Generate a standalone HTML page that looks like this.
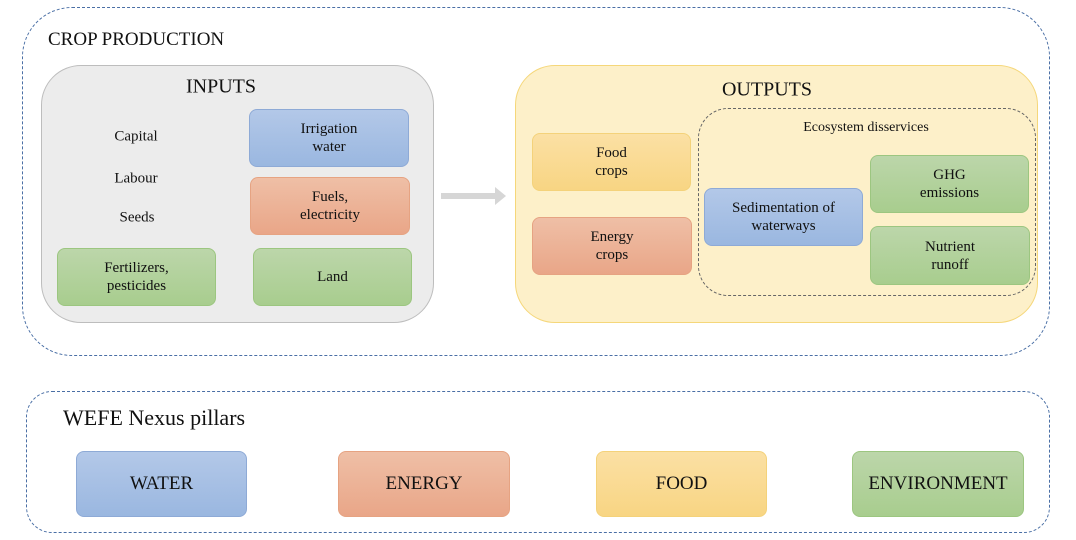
<!DOCTYPE html>
<html><head><style>
body{margin:0;width:1076px;height:540px;background:#fff;font-family:"Liberation Serif",serif;position:relative;overflow:hidden;color:#111}
.a{position:absolute;box-sizing:border-box}
.b{position:absolute;box-sizing:border-box;border-radius:8px;display:flex;align-items:center;justify-content:center;text-align:center;font-size:15px;line-height:18px}
.bl{background:linear-gradient(#b3c8e8,#9ab7e0);border:1px solid #8eaad6}
.or{background:linear-gradient(#efbfa6,#e9a688);border:1px solid #e6a382}
.gr{background:linear-gradient(#bcd6aa,#a8cd8e);border:1px solid #9cc680}
.ye{background:linear-gradient(#fbe0a4,#f8d583);border:1px solid #f4d27a}
.t{position:absolute;font-size:15px;transform:translate(-50%,-50%);white-space:nowrap}
</style></head><body>
<div class="a" style="left:22px;top:7px;width:1028px;height:349px;border:1.3px dashed #4a6fa5;border-radius:50px"></div>
<div class="a" style="left:26px;top:391px;width:1024px;height:142px;border:1.3px dashed #4a6fa5;border-radius:26px"></div>
<div class="a" style="left:48px;top:29px;font-size:19px">CROP PRODUCTION</div>
<div class="a" style="left:41px;top:65px;width:393px;height:258px;background:#ececec;border:1px solid #bdbdbd;border-radius:40px"></div>
<div class="t" style="left:221px;top:87px;font-size:20px">INPUTS</div>
<div class="t" style="left:136px;top:137px">Capital</div>
<div class="t" style="left:136px;top:179px">Labour</div>
<div class="t" style="left:137px;top:218px">Seeds</div>
<div class="b bl" style="left:249px;top:109px;width:160px;height:58px">Irrigation<br>water</div>
<div class="b or" style="left:250px;top:177px;width:160px;height:58px">Fuels,<br>electricity</div>
<div class="b gr" style="left:57px;top:248px;width:159px;height:58px">Fertilizers,<br>pesticides</div>
<div class="b gr" style="left:253px;top:248px;width:159px;height:58px">Land</div>
<svg class="a" style="left:440px;top:186px" width="70" height="20"><rect x="1" y="7" width="54" height="6" fill="#d6d6d6"/><polygon points="55,1 66,10 55,19" fill="#d6d6d6"/></svg>
<div class="a" style="left:515px;top:65px;width:523px;height:258px;background:#fdf0c9;border:1px solid #f5d77a;border-radius:40px"></div>
<div class="t" style="left:767px;top:90px;font-size:20px">OUTPUTS</div>
<div class="a" style="left:698px;top:108px;width:338px;height:188px;border:1.3px dashed #666;border-radius:30px"></div>
<div class="t" style="left:866px;top:128px;font-size:14px">Ecosystem disservices</div>
<div class="b ye" style="left:532px;top:133px;width:159px;height:58px">Food<br>crops</div>
<div class="b or" style="left:532px;top:217px;width:160px;height:58px">Energy<br>crops</div>
<div class="b bl" style="left:704px;top:188px;width:159px;height:58px">Sedimentation of<br>waterways</div>
<div class="b gr" style="left:870px;top:155px;width:159px;height:58px">GHG<br>emissions</div>
<div class="b gr" style="left:870px;top:226px;width:160px;height:59px">Nutrient<br>runoff</div>
<div class="a" style="left:63px;top:405px;font-size:22px">WEFE Nexus pillars</div>
<div class="b bl" style="left:76px;top:451px;width:171px;height:66px;font-size:19px">WATER</div>
<div class="b or" style="left:338px;top:451px;width:172px;height:66px;font-size:19px">ENERGY</div>
<div class="b ye" style="left:596px;top:451px;width:171px;height:66px;font-size:19px">FOOD</div>
<div class="b gr" style="left:852px;top:451px;width:172px;height:66px;font-size:19px">ENVIRONMENT</div>
</body></html>
